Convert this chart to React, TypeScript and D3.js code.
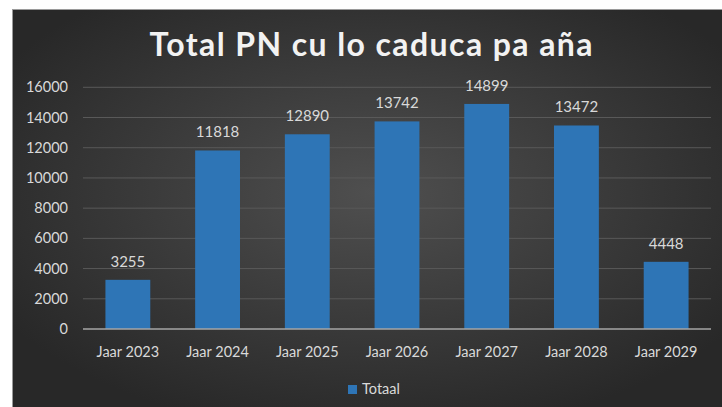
import React from "react";
import * as d3 from "d3";

const categories = ["Jaar 2023", "Jaar 2024", "Jaar 2025", "Jaar 2026", "Jaar 2027", "Jaar 2028", "Jaar 2029"];
const values = [3255, 11818, 12890, 13742, 14899, 13472, 4448];
const yTicks = [0, 2000, 4000, 6000, 8000, 10000, 12000, 14000, 16000];
const title = "Total PN cu lo caduca pa aña";
const seriesName = "Totaal";

const W = 722;
const H = 407;
const FONT = "Lato, 'Open Sans', sans-serif";

export default function App() {
  const x = d3.scaleBand<string>().domain(categories).range([83, 711]).paddingInner(0.5).paddingOuter(0.25);
  const y = d3.scaleLinear().domain([0, 16000]).range([329, 87.3]);
  const bw = x.bandwidth();

  return (
    <svg width={W} height={H} style={{ position: "absolute", left: 0, top: 0, display: "block" }}>
      <defs>
        <radialGradient id="bg" cx="0.5" cy="0.45" r="0.6">
          <stop offset="0" stopColor="#4f4f4f" />
          <stop offset="1" stopColor="#282828" />
        </radialGradient>
      </defs>
      <rect x={0} y={0} width={W} height={H} fill="#ffffff" />
      <rect x={12.5} y={9.5} width={W} height={H} fill="url(#bg)" stroke="#9a9a9a" strokeWidth={1} />
      <text
        x={371}
        y={56}
        textAnchor="middle"
        fill="#f2f2f2"
        fontFamily={FONT}
        fontWeight={700}
        fontSize={32}
        textLength={443}
        lengthAdjust="spacing"
      >
        {title}
      </text>
      {yTicks.map((t) => (
        <g key={t}>
          {t > 0 && <line x1={83} x2={711} y1={y(t)} y2={y(t)} stroke="#595959" strokeWidth={1} />}
          <text x={68} y={y(t) + 5} textAnchor="end" fill="#d9d9d9" fontFamily={FONT} fontSize={14.5}>
            {t}
          </text>
        </g>
      ))}
      {categories.map((c, i) => (
        <g key={c}>
          <rect x={x(c)} y={y(values[i])} width={bw} height={y(0) - y(values[i])} fill="#2e75b6" />
          <text x={(x(c) as number) + bw / 2} y={y(values[i]) - 13} textAnchor="middle" fill="#d9d9d9" fontFamily={FONT} fontSize={15}>
            {values[i]}
          </text>
          <text x={(x(c) as number) + bw / 2} y={357} textAnchor="middle" fill="#d9d9d9" fontFamily={FONT} fontSize={14.5}>
            {c}
          </text>
        </g>
      ))}
      <line x1={83} x2={711} y1={y(0)} y2={y(0)} stroke="#a6a6a6" strokeWidth={1.5} />
      <rect x={348} y={385} width={9} height={9} fill="#2e75b6" />
      <text x={362} y={394} fill="#d9d9d9" fontFamily={FONT} fontSize={14.5}>
        {seriesName}
      </text>
    </svg>
  );
}
